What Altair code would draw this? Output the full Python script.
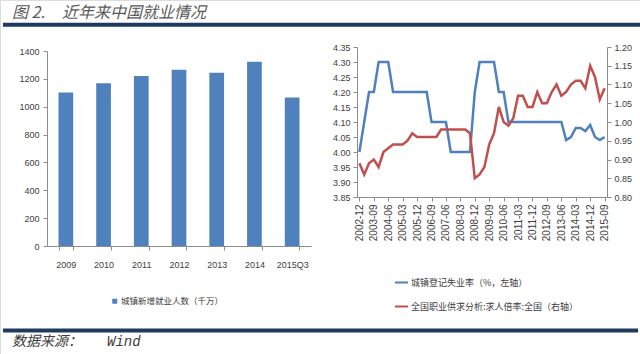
import altair as alt
import pandas as pd

# ---------------- data ----------------
years = ["2009", "2010", "2011", "2012", "2013", "2014", "2015Q3"]
new_jobs = [1102, 1168, 1221, 1266, 1244, 1322, 1066]
bar_series = "城镇新增就业人数（千万）"

quarters = ["2002-12"] + [f"{y}-{m}" for y in range(2003, 2015) for m in ("03", "06", "09", "12")] + ["2015-03", "2015-06", "2015-09"]
quarter_ticks = quarters[::3]

unemp = [4.00,
         4.10, 4.20, 4.20, 4.30,
         4.30, 4.30, 4.20, 4.20,
         4.20, 4.20, 4.20, 4.20,
         4.20, 4.20, 4.10, 4.10,
         4.10, 4.10, 4.00, 4.00,
         4.00, 4.00, 4.00, 4.20,
         4.30, 4.30, 4.30, 4.30,
         4.20, 4.20, 4.10, 4.10,
         4.10, 4.10, 4.10, 4.10,
         4.10, 4.10, 4.10, 4.10,
         4.10, 4.10, 4.04, 4.05,
         4.08, 4.08, 4.07, 4.09,
         4.05, 4.04, 4.05]
ratio = [0.89,
         0.86, 0.89, 0.90, 0.88,
         0.92, 0.93, 0.94, 0.94,
         0.94, 0.95, 0.97, 0.96,
         0.96, 0.96, 0.96, 0.96,
         0.98, 0.98, 0.98, 0.98,
         0.98, 0.98, 0.97, 0.85,
         0.86, 0.88, 0.94, 0.97,
         1.04, 1.00, 0.99, 1.01,
         1.07, 1.07, 1.04, 1.04,
         1.08, 1.05, 1.05, 1.08,
         1.10, 1.07, 1.08, 1.10,
         1.11, 1.11, 1.09, 1.15,
         1.12, 1.06, 1.09]
unemp_series = "城镇登记失业率（%，左轴）"
ratio_series = "全国职业供求分析:求人倍率:全国（右轴）"

left_ticks = [3.85, 3.90, 3.95, 4.00, 4.05, 4.10, 4.15, 4.20, 4.25, 4.30, 4.35]
right_ticks = [0.80, 0.85, 0.90, 0.95, 1.00, 1.05, 1.10, 1.15, 1.20]
bar_ticks = [0, 200, 400, 600, 800, 1000, 1200, 1400]

title_num = "图 2."
title_text = "近年来中国就业情况"
source_label = "数据来源："
source_value = "Wind"

# ---------------- style ----------------
W, H = 640, 354
NUM_FONT = "Liberation Sans"
CJK_FONT = "Noto Sans CJK SC"
AXIS_COLOR = "#8C8C8C"
LABEL_COLOR = "#404040"
BLUE = "#4F81BD"
RED = "#C0504D"
NAVY = "#1F3A5F"

axis_common = dict(
    grid=False, domainColor=AXIS_COLOR, tickColor=AXIS_COLOR, tickSize=4,
    labelFont=NUM_FONT, labelFontSize=9, labelColor=LABEL_COLOR, title=None,
)

bar_df = pd.DataFrame({"year": years, "value": new_jobs, "s": [bar_series] * len(years)})
line_df = pd.DataFrame({"q": quarters, "unemp": unemp, "ratio": ratio,
                        "s1": [unemp_series] * len(quarters), "s2": [ratio_series] * len(quarters)})
one = pd.DataFrame({"k": [0]})

# ---------------- header / footer ----------------
t1 = alt.Chart(pd.DataFrame({"t": [title_num]})).mark_text(
    align="left", baseline="alphabetic", font=CJK_FONT, fontSize=16, fontStyle="italic", color="#5A5A5A"
).encode(text="t:N", x=alt.value(12), y=alt.value(18))
t2 = alt.Chart(pd.DataFrame({"t": [title_text]})).mark_text(
    align="left", baseline="alphabetic", font=CJK_FONT, fontSize=16, fontStyle="italic", color="#5A5A5A"
).encode(text="t:N", x=alt.value(62), y=alt.value(18))
rule_top = alt.Chart(one).mark_rule(color=NAVY, strokeWidth=4).encode(
    x=alt.value(3), x2=alt.value(640), y=alt.value(24.7))
rule_bot = alt.Chart(one).mark_rule(color=NAVY, strokeWidth=4).encode(
    x=alt.value(3), x2=alt.value(638), y=alt.value(330.5))
f1 = alt.Chart(pd.DataFrame({"t": [source_label]})).mark_text(
    align="left", baseline="alphabetic", font=CJK_FONT, fontSize=14, fontStyle="italic", color="#404040"
).encode(text="t:N", x=alt.value(12), y=alt.value(346))
f2 = alt.Chart(pd.DataFrame({"t": [source_value]})).mark_text(
    align="left", baseline="alphabetic", font="Liberation Mono", fontSize=14, fontStyle="italic", color="#404040"
).encode(text="t:N", x=alt.value(107), y=alt.value(346))

# ---------------- bar panel ----------------
bars = alt.Chart(bar_df).mark_bar().encode(
    x=alt.X("year:N", sort=years,
            scale=alt.Scale(range=[47, 311], paddingInner=0.61, paddingOuter=0.305),
            axis=alt.Axis(orient="bottom", offset=-(H - 246), tickBand="extent", labelAngle=0,
                          labelPadding=10, **axis_common)),
    y=alt.Y("value:Q",
            scale=alt.Scale(domain=[0, 1400], range=[246, 51], nice=False, zero=True),
            axis=alt.Axis(orient="left", offset=-47, values=bar_ticks, format="d", labelPadding=4,
                          **axis_common)),
    color=alt.Color("s:N", scale=alt.Scale(range=[BLUE]),
                    legend=alt.Legend(orient="none", legendX=110.5, legendY=297, title=None, padding=0,
                                      symbolType="square", symbolSize=25, labelOffset=2, labelLimit=0,
                                      labelFont=CJK_FONT, labelFontSize=8.5, labelColor=LABEL_COLOR)),
)

# ---------------- line panel ----------------
x_line_scale = dict(type="point", range=[357, 607], padding=0.5)

blue = alt.Chart(line_df).mark_line(strokeWidth=2.5).encode(
    x=alt.X("q:O", sort=quarters, scale=alt.Scale(**x_line_scale),
            axis=alt.Axis(orient="bottom", offset=-(H - 197), values=quarter_ticks, labelAngle=270,
                          labelPadding=3, **{**axis_common, "labelFontSize": 10})),
    y=alt.Y("unemp:Q", scale=alt.Scale(domain=[3.85, 4.35], range=[197, 47], nice=False, zero=False),
            axis=alt.Axis(orient="left", offset=-357, values=left_ticks, format=".2f",
                          labelPadding=3, **axis_common)),
    color=alt.Color("s1:N", scale=alt.Scale(range=[BLUE]),
                    legend=alt.Legend(orient="none", legendX=394, legendY=275, title=None, padding=0,
                                      symbolType="stroke", symbolSize=169, symbolStrokeWidth=2,
                                      labelOffset=2, labelLimit=0, labelFont=CJK_FONT, labelFontSize=9,
                                      labelColor=LABEL_COLOR)),
)

red = alt.Chart(line_df).mark_line(strokeWidth=2.5).encode(
    x=alt.X("q:O", sort=quarters, scale=alt.Scale(**x_line_scale), axis=None),
    y=alt.Y("ratio:Q", scale=alt.Scale(domain=[0.80, 1.20], range=[197, 47], nice=False, zero=False),
            axis=alt.Axis(orient="right", offset=-(W - 607), values=right_ticks, format=".2f",
                          labelPadding=3, **axis_common)),
    color=alt.Color("s2:N", scale=alt.Scale(range=[RED]),
                    legend=alt.Legend(orient="none", legendX=394, legendY=299, title=None, padding=0,
                                      symbolType="stroke", symbolSize=169, symbolStrokeWidth=2,
                                      labelOffset=2, labelLimit=0, labelFont=CJK_FONT, labelFontSize=9,
                                      labelColor=LABEL_COLOR)),
)

chart = alt.layer(t1, t2, rule_top, bars, blue, red, rule_bot, f1, f2).resolve_scale(
    x="independent", y="independent", color="independent"
).resolve_axis(x="independent", y="independent").resolve_legend(color="independent").properties(
    width=W, height=H, autosize=alt.AutoSizeParams(type="none"), padding=0
).configure_view(stroke=None).configure(background="white")

chart.save("out.html", embed_options={"renderer": "svg", "actions": False})
